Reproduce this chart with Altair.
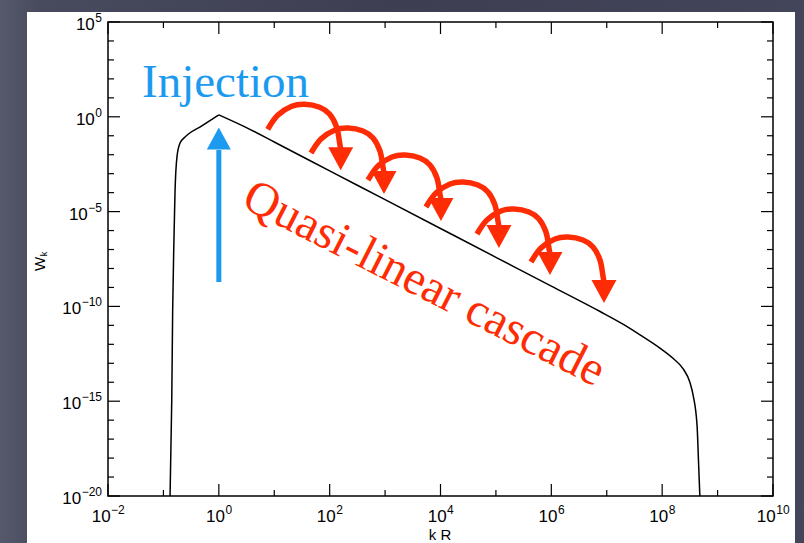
import altair as alt
import pandas as pd

# ---------------- data (log10 units) ----------------
# rising flank (ends at the peak) and falling spectrum (starts at the peak)
rise_logk = [-0.88, -0.865, -0.85, -0.833, -0.81, -0.791, -0.755, -0.70, -0.61, -0.30, 0.0]
rise_logw = [-20.0, -17.5, -15.0, -10.2, -6.5, -4.0, -2.1, -1.38, -1.07, -0.47, 0.1]
fall_logk = [0.0, 0.56, 1.0, 2.0, 3.0, 4.0, 5.0, 6.0, 6.88, 7.3, 7.6, 7.96, 8.2, 8.38,
             8.5, 8.56, 8.63, 8.66, 8.68]
fall_logw = [0.1, -0.66, -1.33, -2.85, -4.37, -5.89, -7.41, -8.93, -10.27, -10.95, -11.5,
             -12.2, -12.75, -13.3, -14.0, -14.7, -16.3, -18.5, -20.0]

x_label_vals = [-2, 0, 2, 4, 6, 8, 10]
x_label_exp = ["−2", "0", "2", "4", "6", "8", "10"]
y_label_vals = [-20, -15, -10, -5, 0, 5]
y_label_exp = ["−20", "−15", "−10", "−5", "0", "5"]
x_minor_vals = [-1, 1, 3, 5, 7, 9]
y_minor_vals = [v for v in range(-19, 5) if v % 5 != 0]

# cascade arrows: start of each hop and the shape of one hop (decades)
arc_start_k = [0.882, 1.663, 2.691, 3.738, 4.658, 5.633]
arc_start_w = [-0.659, -1.909, -3.333, -4.757, -6.181, -7.658]
arc_shape_dk = [0.0, 0.180, 0.433, 0.668, 0.938, 1.119, 1.245, 1.299, 1.317]
arc_shape_dw = [0.0, 0.738, 1.213, 1.319, 1.160, 0.791, 0.105, -0.738, -1.055]
arc_head_dk = 1.317
arc_head_dw = -1.556

inj_arrow_k = 0.0
inj_arrow_w = [-8.71, -1.75]
inj_head_w = -1.144

W, H = 665, 474
RED = "#fe2c04"
BLUE = "#1b9af0"
LFONT = "Liberation Sans"
BASE_FS, EXP_FS = 17, 12

xs = alt.Scale(domain=[-2, 10], nice=False, zero=False)
ys = alt.Scale(domain=[-20, 5], nice=False, zero=False)


def X(f):
    return alt.X(f, type="quantitative", scale=xs, axis=None)


def Y(f):
    return alt.Y(f, type="quantitative", scale=ys, axis=None)


one = alt.Data(values=[{"a": 1}])

bg = alt.Chart(one).mark_rect(
    fill=alt.Gradient(gradient="linear", x1=0, x2=1, y1=0, y2=0,
                      stops=[alt.GradientStop(color="#56596b", offset=0),
                             alt.GradientStop(color="#484a5e", offset=0.05),
                             alt.GradientStop(color="#3d3e52", offset=0.5),
                             alt.GradientStop(color="#43455a", offset=1)])).encode(
    x=alt.value(-108), x2=alt.value(W + 31), y=alt.value(-22), y2=alt.value(H + 47))

panel = alt.Chart(one).mark_rect(color="white").encode(
    x=alt.value(-81), x2=alt.value(687), y=alt.value(-10), y2=alt.value(H + 60))

seg_rows = ([{"seg": 0, "o": i, "k": k, "w": w} for i, (k, w) in enumerate(zip(rise_logk, rise_logw))]
            + [{"seg": 1, "o": i, "k": k, "w": w} for i, (k, w) in enumerate(zip(fall_logk, fall_logw))])
curve = alt.Chart(pd.DataFrame(seg_rows)).mark_line(
    color="black", strokeWidth=1.5, interpolate="monotone").encode(
    x=X("k"), y=Y("w"), detail="seg:N", order="o:Q")

xmaj = pd.DataFrame({"t": x_label_vals})
xmin = pd.DataFrame({"t": x_minor_vals})
ymaj = pd.DataFrame({"t": y_label_vals})
ymin = pd.DataFrame({"t": y_minor_vals})

tick_layers = []
for df, ln in [(xmaj, 12), (xmin, 6)]:
    tick_layers.append(alt.Chart(df).mark_rule(color="black", strokeWidth=1.2).encode(
        x=X("t"), y=alt.value(H), y2=alt.value(H - ln)))
    tick_layers.append(alt.Chart(df).mark_rule(color="black", strokeWidth=1.2).encode(
        x=X("t"), y=alt.value(0), y2=alt.value(ln)))
for df, ln in [(ymaj, 12), (ymin, 6)]:
    tick_layers.append(alt.Chart(df).mark_rule(color="black", strokeWidth=1.2).encode(
        y=Y("t"), x=alt.value(0), x2=alt.value(ln)))
    tick_layers.append(alt.Chart(df).mark_rule(color="black", strokeWidth=1.2).encode(
        y=Y("t"), x=alt.value(W), x2=alt.value(W - ln)))

frame = alt.Chart(one).mark_rect(filled=False, stroke="black", strokeWidth=1.5).encode(
    x=alt.value(0), x2=alt.value(W), y=alt.value(0), y2=alt.value(H))


# ---- tick labels "10" + superscript exponent ----
def exp_width(s):
    return sum(0.584 * EXP_FS if c == "−" else 0.556 * EXP_FS for c in s)


W10 = 2 * 0.556 * BASE_FS
label_layers = []
for v, e in zip(x_label_vals, x_label_exp):
    join = (W10 - exp_width(e)) / 2
    d = pd.DataFrame({"t": [v], "b": ["10"], "e": [e]})
    label_layers.append(alt.Chart(d).mark_text(
        font=LFONT, fontSize=BASE_FS, align="right", baseline="alphabetic",
        dx=join, color="black").encode(x=X("t"), y=alt.value(H + 26), text="b:N"))
    label_layers.append(alt.Chart(d).mark_text(
        font=LFONT, fontSize=EXP_FS, align="left", baseline="alphabetic",
        dx=join + 0.5, color="black").encode(x=X("t"), y=alt.value(H + 18), text="e:N"))
for v, e in zip(y_label_vals, y_label_exp):
    d = pd.DataFrame({"t": [v], "b": ["10"], "e": [e]})
    join = -6 - exp_width(e)
    label_layers.append(alt.Chart(d).mark_text(
        font=LFONT, fontSize=BASE_FS, align="right", baseline="alphabetic",
        dy=8, color="black").encode(x=alt.value(join - 0.5), y=Y("t"), text="b:N"))
    label_layers.append(alt.Chart(d).mark_text(
        font=LFONT, fontSize=EXP_FS, align="right", baseline="alphabetic",
        dy=0, color="black").encode(x=alt.value(-6), y=Y("t"), text="e:N"))

titles = [
    alt.Chart(pd.DataFrame({"t": ["k  R"]})).mark_text(
        font=LFONT, fontSize=15, align="center", baseline="alphabetic", color="black").encode(
        x=alt.value(332), y=alt.value(H + 44), text="t:N"),
    alt.Chart(pd.DataFrame({"t": ["W"]})).mark_text(
        font=LFONT, fontSize=15, align="center", baseline="alphabetic", angle=270,
        color="black").encode(x=alt.value(-63), y=alt.value(242), text="t:N"),
    alt.Chart(pd.DataFrame({"t": ["k"]})).mark_text(
        font=LFONT, fontSize=9, align="center", baseline="alphabetic", angle=270,
        color="black").encode(x=alt.value(-61), y=alt.value(232), text="t:N"),
]

# cascade hops
rows = []
for i, (sk, sw) in enumerate(zip(arc_start_k, arc_start_w)):
    for j, (dk, dw) in enumerate(zip(arc_shape_dk, arc_shape_dw)):
        rows.append({"arc": i, "o": j, "k": sk + dk, "w": sw + dw})
arcs = alt.Chart(pd.DataFrame(rows)).mark_line(
    color=RED, strokeWidth=5.5, interpolate="cardinal").encode(
    x=X("k"), y=Y("w"), detail="arc:N", order="o:Q")

head_df = pd.DataFrame({"k": [k + arc_head_dk for k in arc_start_k],
                        "w": [w + arc_head_dw for w in arc_start_w]})
heads = alt.Chart(head_df).mark_point(shape="M-1,-0.92L1,-0.92L0,0.92Z", filled=True,
                                      color=RED, opacity=1, size=625, strokeWidth=0).encode(
    x=X("k"), y=Y("w"))

inj_df = pd.DataFrame({"k": [inj_arrow_k], "w1": [inj_arrow_w[0]], "w2": [inj_arrow_w[1]]})
inj_shaft = alt.Chart(inj_df).mark_rule(color=BLUE, strokeWidth=5).encode(
    x=X("k"), y=Y("w1"), y2="w2")
inj_head = alt.Chart(pd.DataFrame({"k": [inj_arrow_k], "w": [inj_head_w]})).mark_point(
    shape="M-1,0.92L1,0.92L0,-0.92Z", filled=True, color=BLUE, opacity=1, size=576,
    strokeWidth=0).encode(x=X("k"), y=Y("w"))

inj_txt = alt.Chart(pd.DataFrame({"k": [-1.386], "w": [1.04], "t": ["Injection"]})).mark_text(
    font="Liberation Serif", fontSize=47, color=BLUE, align="left",
    baseline="alphabetic").encode(x=X("k"), y=Y("w"), text="t:N")

q_txt = alt.Chart(pd.DataFrame({"k": [3.702], "w": [-8.819], "t": ["Quasi-linear cascade"]})).mark_text(
    font="Liberation Serif", fontSize=48, color=RED, align="center", baseline="middle",
    angle=27).encode(x=X("k"), y=Y("w"), text="t:N")

chart = alt.layer(bg, panel, curve, *tick_layers, frame, *label_layers, *titles, arcs, heads,
                  inj_shaft, inj_head, inj_txt, q_txt).properties(
    width=W, height=H, background="#3f4054",
    padding={"left": 108, "top": 22, "right": 31, "bottom": 47},
    autosize=alt.AutoSizeParams(type="none"),
).configure_view(stroke="transparent")

chart.save("out.html", embed_options={"renderer": "svg", "actions": False})
